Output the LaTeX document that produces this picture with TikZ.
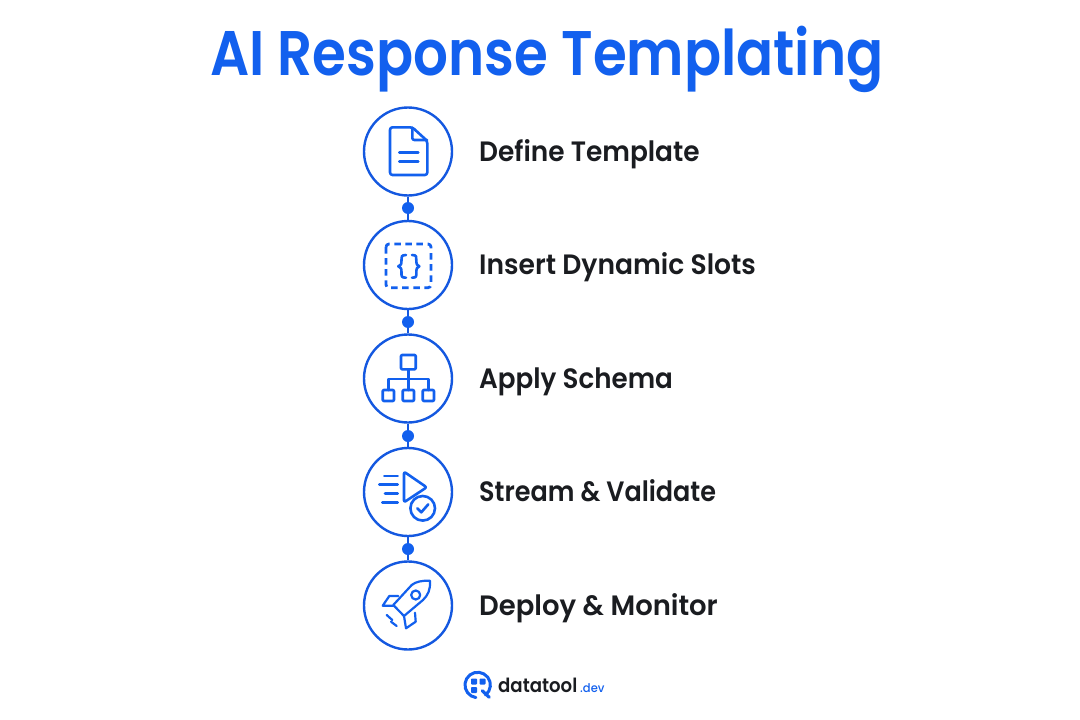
\documentclass[tikz,border=0pt]{standalone}
\usepackage{fontspec}
\setmainfont{Poppins}
\newfontfamily\titlefont[FakeStretch=0.869]{Poppins SemiBold}
\newfontfamily\labelfont[FakeStretch=0.925]{Poppins SemiBold}
\newfontfamily\logofont[FakeStretch=0.93]{Poppins SemiBold}
\newfontfamily\devfont[FakeStretch=0.96]{Poppins Medium}
\definecolor{bluemain}{HTML}{1260EE}
\definecolor{blueline}{HTML}{1458E0}
\definecolor{inkdark}{HTML}{1A1C20}
\tikzset{
  stepcircle/.style={circle,draw=blueline,line width=2.4,fill=white,minimum size=88,inner sep=0},
  stepdot/.style={circle,fill=bluemain,minimum size=12,inner sep=0},
  conn/.style={draw=blueline,line width=2.4},
  icon/.style={draw=bluemain,line width=2.6,line join=round,line cap=round},
  thin icon/.style={draw=bluemain,line width=2.2,line join=round,line cap=round},
  steplabel/.style={anchor=base west,inner sep=0,text=inkdark,font=\labelfont\fontsize{28}{30}\selectfont},
}
\begin{document}
\begin{tikzpicture}[x=1pt,y=-1pt]
\useasboundingbox[fill=white] (0,0) rectangle (1080,720);
\node[anchor=base,inner sep=0,text=bluemain,font=\titlefont\fontsize{63}{66}\selectfont] (title) at (547,75) {AI Response Templating};
% steps
\node[stepcircle] (c1) at (408,151.5) {};
\node[stepcircle] (c2) at (408,265) {};
\node[stepcircle] (c3) at (408,378.5) {};
\node[stepcircle] (c4) at (408,492) {};
\node[stepcircle] (c5) at (408,605.5) {};
\node[stepdot] (d1) at (408,208) {};
\node[stepdot] (d2) at (408,322) {};
\node[stepdot] (d3) at (408,436) {};
\node[stepdot] (d4) at (408,549) {};
\draw[conn] (c1) -- (d1); \draw[conn] (d1) -- (c2);
\draw[conn] (c2) -- (d2); \draw[conn] (d2) -- (c3);
\draw[conn] (c3) -- (d3); \draw[conn] (d3) -- (c4);
\draw[conn] (c4) -- (d4); \draw[conn] (d4) -- (c5);
% labels
\node[steplabel] (l1) at (479,161) {\scalebox{1.019}[1]{Define Template}};
\node[steplabel] (l2) at (479,274.5) {\scalebox{1.026}[1]{Insert Dynamic Slots}};
\node[steplabel] (l3) at (479,388) {\scalebox{1.01}[1]{Apply Schema}};
\node[steplabel] (l4) at (479,501.5) {\scalebox{0.983}[1]{Stream \& Validate}};
\node[steplabel] (l5) at (479,615) {\scalebox{1.06}[1]{Deploy \& Monitor}};
% icon 1: document
\draw[icon,rounded corners=2.5] (400,127.3) -- (412.3,127.3) -- (427.3,141) -- (427.3,175) -- (390,175) -- (390,127.3) -- (400,127.3);
\draw[icon,rounded corners=2] (412.3,127.8) -- (412.3,140) -- (427,140);
\draw[icon] (399.3,152.3) -- (418.3,152.3);
\draw[icon] (399.3,161.7) -- (418.3,161.7);
% icon 2: dashed frame with braces
\draw[icon,line width=2.8,rounded corners=3,dash pattern=on 6.5 off 4.6,line cap=butt] (386,244) rectangle (431,287.7);
\draw[icon] (406,255) .. controls (401,255) and (401.5,257) .. (401.5,260) .. controls (401.5,264) and (401,266) .. (398.3,266.3) .. controls (401,266.6) and (401.5,269) .. (401.5,272.5) .. controls (401.5,276) and (401,277.7) .. (406,277.7);
\draw[icon] (412,255) .. controls (417,255) and (416.3,257) .. (416.3,260) .. controls (416.3,264) and (417,266) .. (419.3,266.3) .. controls (417,266.6) and (416.3,269) .. (416.3,272.5) .. controls (416.3,276) and (417,277.7) .. (412,277.7);
% icon 3: hierarchy
\draw[icon,rounded corners=1] (401,355) rectangle (415.7,369.3);
\draw[icon] (408.3,369.3) -- (408.3,390);
\draw[icon] (388.3,390) -- (388.3,379) -- (428.3,379) -- (428.3,390);
\draw[icon,rounded corners=1] (382.7,390) rectangle (394,401);
\draw[icon,rounded corners=1] (402.7,390) rectangle (414,401);
\draw[icon,rounded corners=1] (422.7,390) rectangle (434,401);
% icon 4: stream and validate
\draw[icon,rounded corners=2] (404,471.7) -- (426.7,487.3) -- (404,502.3) -- cycle;
\draw[icon] (384.3,476) -- (397.7,476);
\draw[icon] (379.3,484.7) -- (397.7,484.7);
\draw[icon] (385,493.7) -- (397.7,493.7);
\draw[icon] (382.3,502.7) -- (397.7,502.7);
\draw[icon,fill=white] (422.7,508.3) circle (12.3);
\draw[icon] (417.3,508.3) -- (421.3,512.3) -- (428.3,504.3);
% icon 5: rocket
\draw[thin icon] (430,580.7) .. controls (422,580.5) and (416,581.5) .. (411.7,585) -- (393.3,605) -- (404,616) -- (423,600) .. controls (428,595) and (430.5,590) .. (430,580.7) -- cycle;
\draw[thin icon] (415.7,595) circle (4.5);
\draw[thin icon] (398.3,596) -- (389.3,596) -- (382.7,605.7) -- (393.3,605.7);
\draw[thin icon] (415,612.7) -- (415.7,621.7) -- (406,628.3) -- (404,616);
\draw[thin icon] (386.7,615) -- (392.3,620);
\draw[thin icon] (391,621.7) -- (396.7,626);
% logo
\draw[bluemain,line width=3,line cap=round] (485.5,695) arc[start angle=52,end angle=-262,radius=12.7];
\fill[bluemain,rounded corners=0.8] (471,678.5) rectangle (477,684.5);
\fill[bluemain,rounded corners=0.8] (479.5,678.5) rectangle (485.5,684.5);
\fill[bluemain,rounded corners=0.8] (471,687) rectangle (477,693);
\draw[bluemain,line width=3.2,line cap=round] (482.3,690.7) -- (489.3,697.3);
\node[anchor=base west,inner sep=0,text=inkdark,font=\logofont\fontsize{19.5}{21}\selectfont] (logotext) at (498,692.5) {datatool};
\node[anchor=base west,inner sep=0,text=bluemain,font=\devfont\fontsize{12}{14}\selectfont] (logodev) at (580,692.5) {.dev};
\end{tikzpicture}
\end{document}
